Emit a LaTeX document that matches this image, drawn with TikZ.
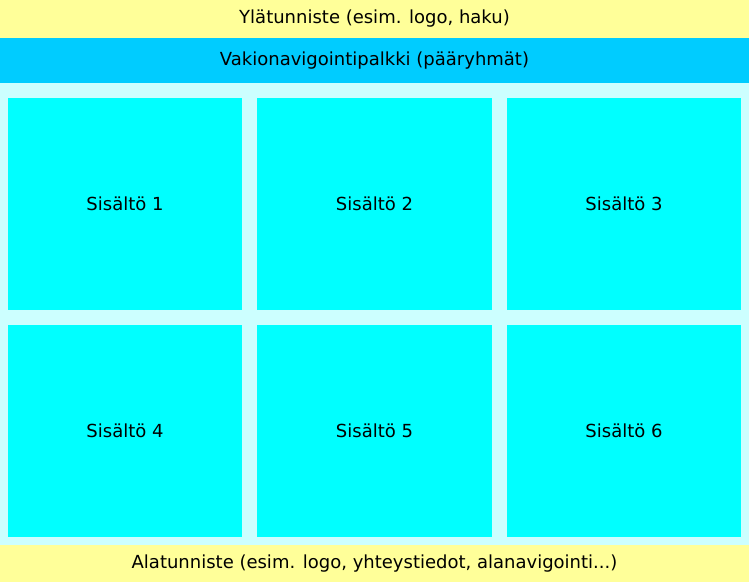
\documentclass[tikz,border=0pt]{standalone}
\usepackage{fontspec}
\setmainfont{DejaVu Sans}
\usepackage{tikz}
\usetikzlibrary{positioning}
\definecolor{otsake}{HTML}{FFFF99}
\definecolor{navi}{HTML}{00CCFF}
\definecolor{tausta}{HTML}{CCFFFF}
\definecolor{sisalto}{HTML}{00FFFF}
\tikzstyle{bar} = [rectangle, inner sep=0pt, outer sep=0pt, minimum width=749pt, font=\fontsize{18}{21}\selectfont]
\tikzstyle{box} = [rectangle, fill=sisalto, inner sep=0pt, outer sep=0pt, minimum width=234.5pt, minimum height=212pt, font=\fontsize{18}{21}\selectfont]

\begin{document}
\begin{tikzpicture}[x=1pt, y=-1pt, node distance=15pt]
\useasboundingbox (0,0) rectangle (749,582);
\fill [tausta] (0,83) rectangle (749,545);

\node [bar, fill=otsake, minimum height=38pt] (head) at (374.5,19) {Ylätunniste (esim. logo, haku)};
\node [bar, fill=navi, minimum height=45pt] (nav) at (374.5,60.5) {Vakionavigointipalkki (pääryhmät)};

\node [box] (s1) at (125,204) {Sisältö 1};
\node [box] (s2) [right=of s1] {Sisältö 2};
\node [box] (s3) [right=of s2] {Sisältö 3};

\node [box] (s4) [below=of s1] {Sisältö 4};
\node [box] (s5) [right=of s4] {Sisältö 5};
\node [box] (s6) [right=of s5] {Sisältö 6};

\node [bar, fill=otsake, minimum height=37pt] (foot) at (374.5,563.5) {Alatunniste (esim. logo, yhteystiedot, alanavigointi...)};
\end{tikzpicture}
\end{document}
